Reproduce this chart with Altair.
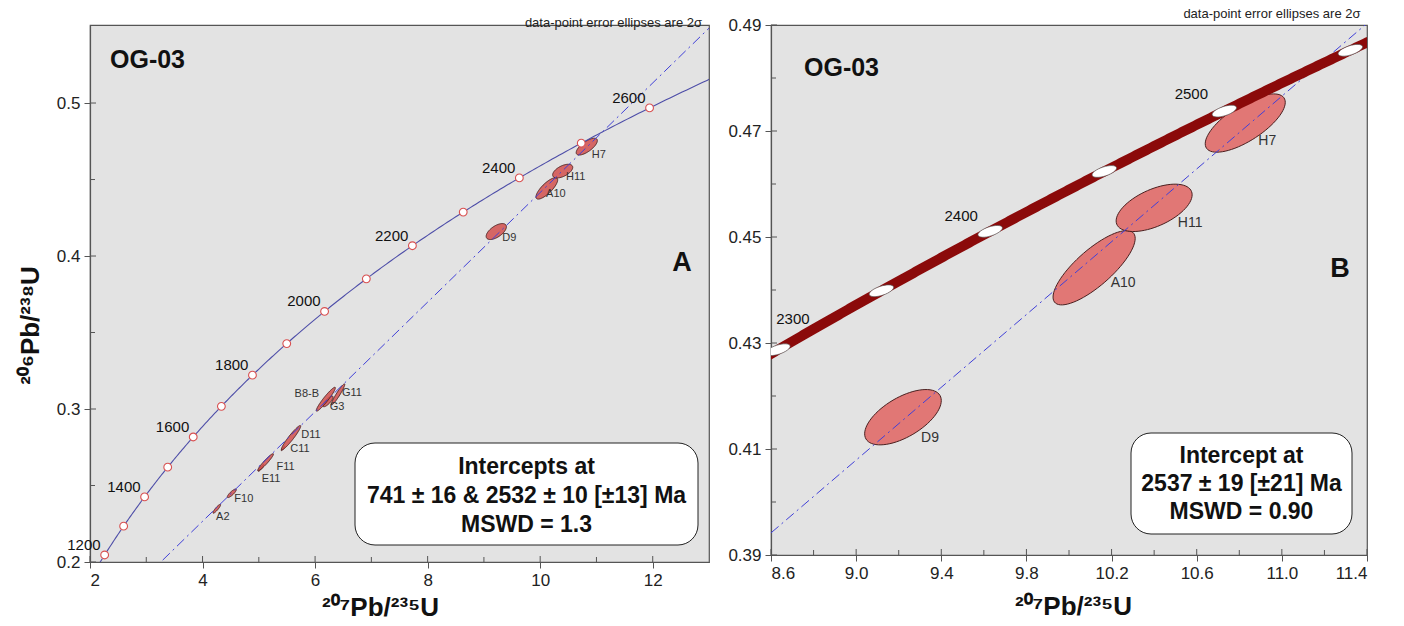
import numpy as np
import pandas as pd
import altair as alt

# U decay constants (1/yr)
L238 = 1.55125e-10
L235 = 9.8485e-10


def concordia(t_ma):
    t = np.asarray(t_ma, dtype=float) * 1e6
    return np.exp(L235 * t) - 1.0, np.exp(L238 * t) - 1.0


# ---- spot analyses: centre, 2-sigma half-widths, error correlation ----
spot = ["A2", "F10", "E11", "F11", "C11", "D11", "G3", "B8-B", "G11",
        "D9", "A10", "H11", "H7"]
x207 = [4.253, 4.52, 5.04, 5.12, 5.43, 5.572, 6.23, 6.19, 6.407,
        9.22, 10.118, 10.40, 10.828]
y206 = [0.2348, 0.2449, 0.2615, 0.2652, 0.2743, 0.2812, 0.3050, 0.3064, 0.3095,
        0.4160, 0.4442, 0.4555, 0.4715]
sig_x = [0.068, 0.080, 0.050, 0.140, 0.030, 0.172, 0.090, 0.170, 0.120,
         0.180, 0.193, 0.1785, 0.188]
sig_y = [0.0029, 0.0028, 0.0022, 0.0056, 0.0015, 0.0080, 0.0035, 0.0078, 0.0069,
         0.00522, 0.00701, 0.00447, 0.0055]
rho = [0.90, 0.85, 0.90, 0.95, 0.90, 0.95, 0.80, 0.95, 0.95,
       0.60, 0.79, 0.55, 0.71]
spots_b = ["D9", "A10", "H11", "H7"]

# ---- concordia age marks ----
ages_a = [1200, 1300, 1400, 1500, 1600, 1700, 1800, 1900, 2000,
          2100, 2200, 2300, 2400, 2500, 2600]
labels_a = [1200, 1400, 1600, 1800, 2000, 2200, 2400, 2600]
ages_b = [2300, 2350, 2400, 2450, 2500, 2550]
labels_b = [2300, 2400, 2500]

# ---- discordia intercepts (Ma) ----
disc_a = [741, 2532]
disc_b = [880, 2537]

box_a = ["Intercepts at", "741 \u00b1 16 & 2532 \u00b1 10 [\u00b113] Ma", "MSWD = 1.3"]
box_b = ["Intercept at", "2537 \u00b1 19 [\u00b121] Ma", "MSWD = 0.90"]

# label offsets in screen pixels (right, down) from each spot / age mark
lab_off_a = {"A2": (6, 8), "F10": (12, 6), "E11": (10, 11), "F11": (20, 5),
             "C11": (17, 1), "D11": (20, -3), "G3": (9, 6), "B8-B": (-19, -5),
             "G11": (14, -1), "D9": (13, 6), "A10": (9, 6), "H11": (13, 6),
             "H7": (12, 8)}
lab_off_b = {"D9": (27, 21), "A10": (29, 15), "H11": (36, 15), "H7": (22, 18)}
age_off_b = {2300: (15, -31), 2400: (-29, -15), 2500: (-33, -17)}

FONT = "Liberation Sans"
XT = "\u00b2\u2070\u2077Pb/\u00b2\u00b3\u2075U"
YT = "\u00b2\u2070\u2076Pb/\u00b2\u00b3\u2078U"


def ellipse_table(names):
    rows = []
    th = np.linspace(0, 2 * np.pi, 73)
    for i, n in enumerate(spot):
        if n not in names:
            continue
        ex = x207[i] + sig_x[i] * np.cos(th)
        ey = y206[i] + sig_y[i] * (rho[i] * np.cos(th) + np.sqrt(1 - rho[i] ** 2) * np.sin(th))
        for k in range(len(th)):
            rows.append({"spot": n, "k": k, "x": ex[k], "y": ey[k]})
    return pd.DataFrame(rows)


def panel(names, xdom, ydom, w, h, ages, labels, disc, box, letter,
          lab_off, age_off, xticks, xminor, yticks, yminor, xfmt, yfmt,
          band, ytitle, boxpos, box_line1, line_h, og_pos, letter_pos, lab_size,
          xtitle_x, xtitle_pad):
    kx = w / (xdom[1] - xdom[0])
    ky = h / (ydom[1] - ydom[0])
    xs = alt.Scale(domain=xdom, nice=False, zero=False)
    ys = alt.Scale(domain=ydom, nice=False, zero=False)
    xax = alt.Axis(values=xticks, format=xfmt, title=XT, tickSize=6, titleX=xtitle_x,
                   titlePadding=xtitle_pad)
    yax = alt.Axis(values=yticks, format=yfmt, title=ytitle, tickSize=6)

    # error ellipses
    ell = alt.Chart(ellipse_table(names)).mark_line(
        fill="#e06a68" if band else "#d2504e",
        fillOpacity=0.9 if band else 0.85,
        stroke="#4a2020", strokeWidth=1 if band else 0.9, clip=True
    ).encode(
        x=alt.X("x:Q", scale=xs, axis=xax),
        y=alt.Y("y:Q", scale=ys, axis=yax),
        detail="spot:N", order="k:Q")

    # discordia through the two intercepts
    (x0, x1), (y0, y1) = concordia(disc)
    slope = (y1 - y0) / (x1 - x0)
    dx = [xdom[0] - 1, xdom[1] + 1]
    ddf = pd.DataFrame({"x": dx, "y": [y0 + slope * (v - x0) for v in dx]})
    dis = alt.Chart(ddf).mark_line(
        color="#4040d8", strokeWidth=1, strokeDash=[10, 4, 2, 4], clip=True
    ).encode(x=alt.X("x:Q", scale=xs), y=alt.Y("y:Q", scale=ys))

    # concordia curve
    tmin = np.log(1 + xdom[0]) / L235 / 1e6 - 30
    tmax = np.log(1 + xdom[1]) / L235 / 1e6 + 30
    tt = np.linspace(max(tmin, 1), tmax, 300)
    cx, cy = concordia(tt)
    cdf = pd.DataFrame({"x": cx, "y": cy, "t": tt})
    if band:
        con = alt.Chart(cdf).mark_line(color="#8b0a0a", strokeWidth=10, clip=True)
    else:
        con = alt.Chart(cdf).mark_line(color="#4e4ea8", strokeWidth=1.1, clip=True)
    con = con.encode(x=alt.X("x:Q", scale=xs), y=alt.Y("y:Q", scale=ys), order="t:Q")

    mx, my = concordia(ages)
    mdf = pd.DataFrame({"x": mx, "y": my, "age": ages})
    if band:
        mk = alt.Chart(mdf).mark_point(
            shape="M-1,0 A1,0.36 0 1,1 1,0 A1,0.36 0 1,1 -1,0 Z",
            size=650, angle=342, filled=True, fill="white", opacity=1,
            stroke="#555555", strokeWidth=0.6, clip=True)
    else:
        mk = alt.Chart(mdf).mark_point(
            shape="circle", size=60, filled=False, fill="white", opacity=1,
            stroke="#d85050", strokeWidth=1.1, fillOpacity=1, clip=True)
    mk = mk.encode(x=alt.X("x:Q", scale=xs), y=alt.Y("y:Q", scale=ys))

    lx, ly = concordia(labels)
    if age_off:
        ldf = pd.DataFrame({
            "x": [lx[i] + age_off[a][0] / kx for i, a in enumerate(labels)],
            "y": [ly[i] - age_off[a][1] / ky for i, a in enumerate(labels)],
            "age": [str(a) for a in labels]})
        agt = alt.Chart(ldf).mark_text(font=FONT, fontSize=15, color="#111",
                                       align="center", baseline="middle")
    else:
        ldf = pd.DataFrame({"x": lx, "y": ly, "age": [str(a) for a in labels]})
        agt = alt.Chart(ldf).mark_text(font=FONT, fontSize=15, color="#111",
                                       align="right", baseline="middle",
                                       dx=-4, dy=-10)
    agt = agt.encode(x=alt.X("x:Q", scale=xs), y=alt.Y("y:Q", scale=ys), text="age:N")

    # spot labels
    rows = []
    for i, n in enumerate(spot):
        if n in names:
            ox, oy = lab_off[n]
            rows.append({"x": x207[i] + ox / kx, "y": y206[i] - oy / ky, "spot": n})
    sl = alt.Chart(pd.DataFrame(rows)).mark_text(
        font="Liberation Sans Narrow, " + FONT, fontSize=lab_size, color="#333",
        align="center", baseline="middle"
    ).encode(x=alt.X("x:Q", scale=xs), y=alt.Y("y:Q", scale=ys), text="spot:N")

    # inner tick marks
    one = pd.DataFrame({"v": [0]})
    tx_major = alt.Chart(pd.DataFrame({"v": xticks})).mark_rule(color="#555", strokeWidth=1).encode(
        x=alt.X("v:Q", scale=xs), y=alt.value(h), y2=alt.value(h - 6))
    tx_minor = alt.Chart(pd.DataFrame({"v": xminor})).mark_rule(color="#555", strokeWidth=1).encode(
        x=alt.X("v:Q", scale=xs), y=alt.value(h), y2=alt.value(h - 5))
    ty_major = alt.Chart(pd.DataFrame({"v": yticks})).mark_rule(color="#555", strokeWidth=1).encode(
        y=alt.Y("v:Q", scale=ys), x=alt.value(0), x2=alt.value(6))
    ty_minor = alt.Chart(pd.DataFrame({"v": yminor})).mark_rule(color="#555", strokeWidth=1).encode(
        y=alt.Y("v:Q", scale=ys), x=alt.value(0), x2=alt.value(5))

    bx0, bx1, by0, by1 = boxpos
    rect = alt.Chart(one).mark_rect(fill="white", stroke="#222", strokeWidth=1,
                                    cornerRadius=20).encode(
        x=alt.value(bx0), x2=alt.value(bx1), y=alt.value(by0), y2=alt.value(by1))
    btxt = alt.Chart(one).mark_text(text=box, font=FONT, fontSize=23, fontWeight="bold",
                                    color="#111", align="center", baseline="middle",
                                    lineHeight=line_h).encode(
        x=alt.value((bx0 + bx1) / 2), y=alt.value(box_line1))
    og = alt.Chart(one).mark_text(text="OG-03", font=FONT, fontSize=25, fontWeight="bold",
                                  color="#111", align="left", baseline="middle").encode(
        x=alt.value(og_pos[0]), y=alt.value(og_pos[1]))
    let = alt.Chart(one).mark_text(text=letter, font=FONT, fontSize=27, fontWeight="bold",
                                   color="#111", align="center", baseline="middle").encode(
        x=alt.value(letter_pos[0]), y=alt.value(letter_pos[1]))

    return alt.layer(ell, dis, con, mk, agt, sl, tx_major, tx_minor, ty_major, ty_minor,
                     rect, btxt, og, let).properties(
        width=w, height=h,
        title=alt.TitleParams("data-point error ellipses are 2\u03c3", anchor="end",
                              fontSize=13, font=FONT, fontWeight="normal",
                              color="#222", offset=-5, dx=-7))


left = panel(spot, [2, 13], [0.2, 0.551], 619, 537, ages_a, labels_a, disc_a, box_a, "A",
             lab_off_a, None, [2, 4, 6, 8, 10, 12], [3, 5, 7, 9, 11],
             [0.2, 0.3, 0.4, 0.5], [0.25, 0.35, 0.45], "d", ".1~f",
             False, YT, (265, 608, 418, 520), 442, 29, (20, 35), (592, 238), 11, 290, 6)

right = panel(spots_b, [8.6, 11.4], [0.39, 0.49], 596, 530, ages_b, labels_b, disc_b, box_b, "B",
              lab_off_b, age_off_b, [8.6, 9.0, 9.4, 9.8, 10.2, 10.6, 11.0, 11.4],
              [8.8, 9.2, 9.6, 10.0, 10.4, 10.8, 11.2],
              [0.39, 0.41, 0.43, 0.45, 0.47, 0.49], [0.40, 0.42, 0.44, 0.46, 0.48],
              ".1f", ".2f", True, "", (360, 581, 408, 509), 431, 28, (33, 43), (569, 244), 14,
              302, 12)

chart = alt.hconcat(left, right, spacing=17).properties(
    padding={"left": 16, "top": 7, "right": 5, "bottom": 5}
).configure_view(
    fill="#e3e3e3", stroke="#555555", strokeWidth=1.2
).configure_axis(
    labelFont=FONT, labelFontSize=17, labelColor="#222", labelPadding=4,
    tickColor="#555", domainColor="#555", domainWidth=1.2, grid=False,
    titleFont=FONT, titleFontSize=26, titleFontWeight="bold", titleColor="#111"
).configure_axisY(titleX=-47, titleY=300, titleAngle=270, titleAlign="center")

chart.save("out.html", embed_options={"renderer": "svg", "actions": False})
